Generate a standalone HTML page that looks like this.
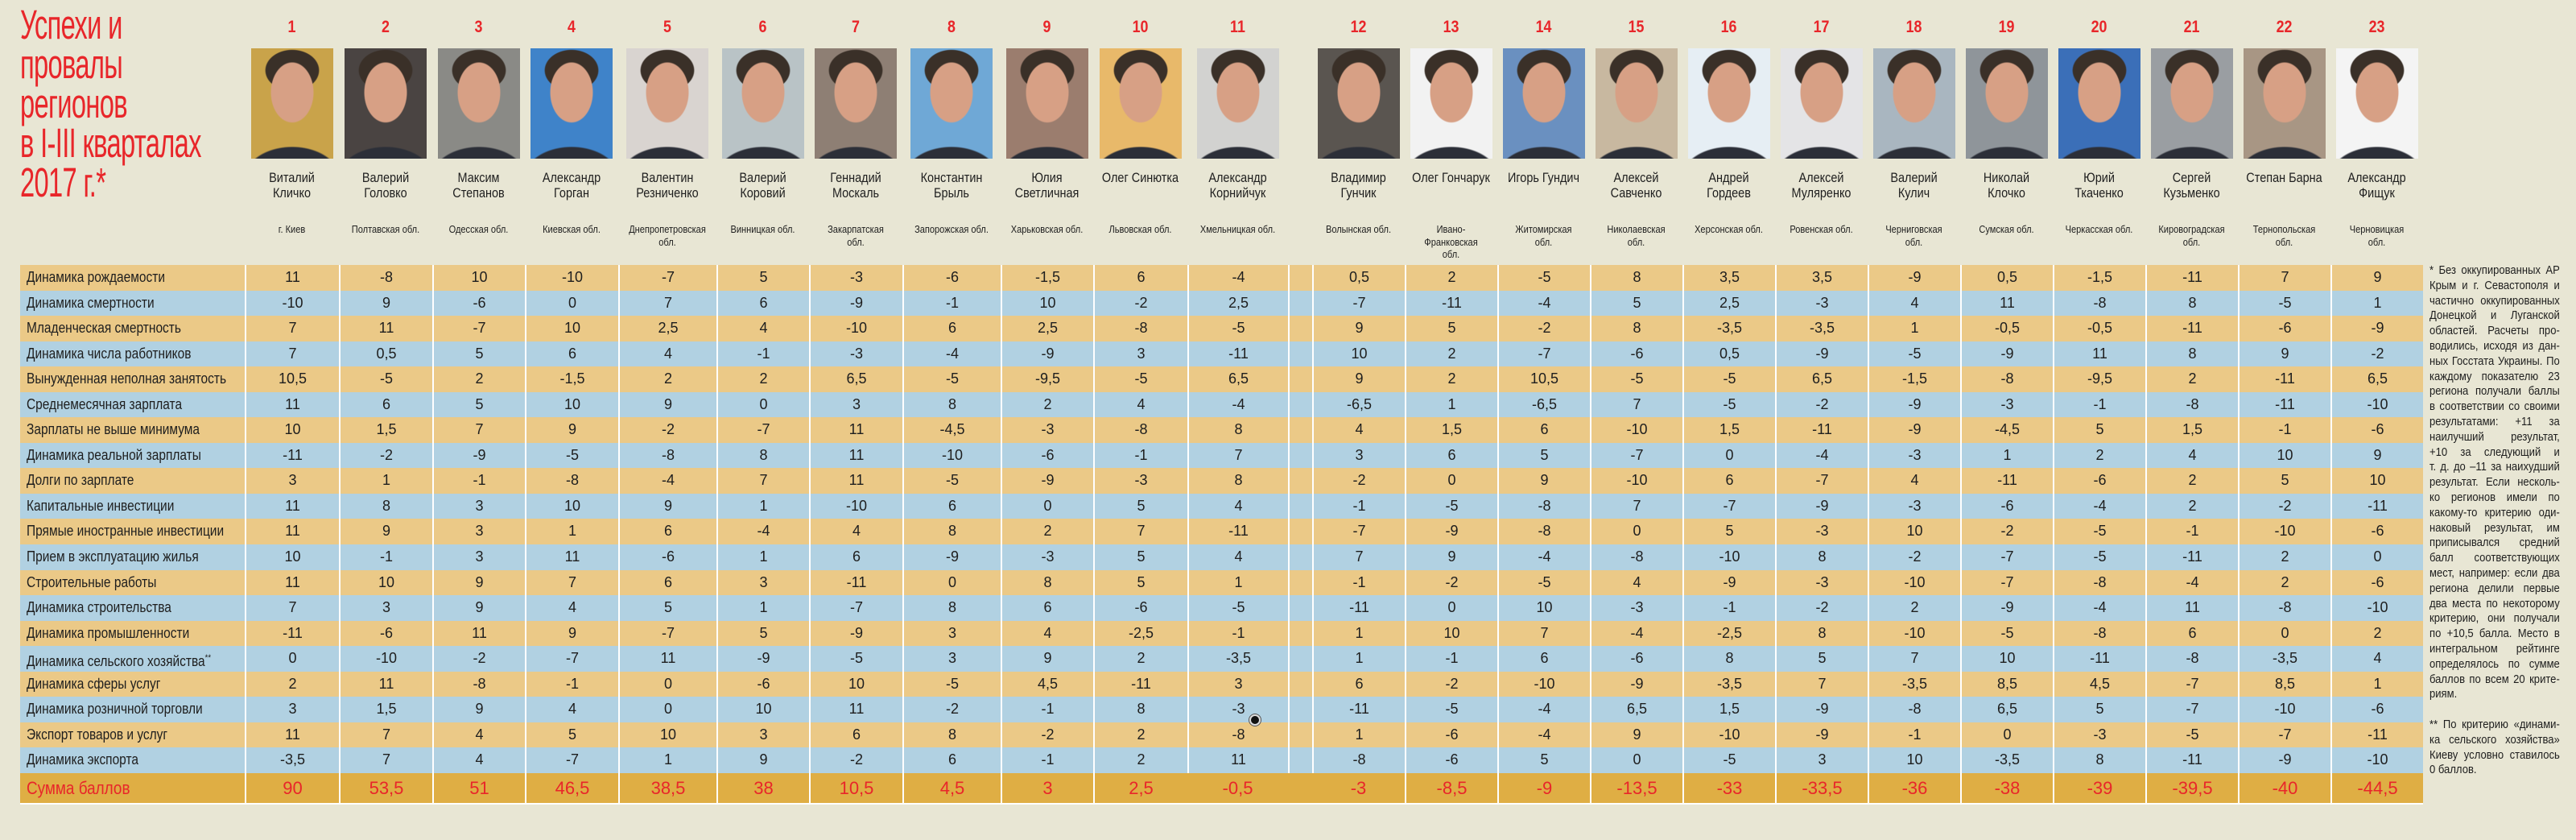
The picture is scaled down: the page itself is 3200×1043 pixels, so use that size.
<!DOCTYPE html>
<html><head><meta charset="utf-8">
<style>
*{margin:0;padding:0;box-sizing:border-box}
body{width:3200px;height:1043px;background:#e8e6d4;position:relative;overflow:hidden;font-family:"Liberation Sans","DejaVu Sans",sans-serif;color:#1e1e1e}
.title{position:absolute;left:25px;top:6px;color:#e8262a;font-size:51px;line-height:49px;transform:scaleX(0.64);transform-origin:0 0;white-space:nowrap;letter-spacing:-1px}
.hdr{position:absolute;left:25px;top:0;display:flex;height:320px}
.hdr>div{position:relative;height:320px}
.rk{position:absolute;top:22px;left:0;right:0;text-align:center;color:#e8262a;font-weight:bold;font-size:21px;transform:scaleX(0.85)}
.ph{position:absolute;top:60px;left:50%;margin-left:-51px;width:102px;height:137px;
background:radial-gradient(ellipse 27px 38px at 50% 40%,#d7a085 96%,transparent 100%),radial-gradient(ellipse 34px 26px at 50% 20%,#3a3028 96%,transparent 100%),radial-gradient(ellipse 60px 40px at 50% 118%,#2c2f38 96%,transparent 100%),var(--bg,#9aa3ad)}
.nm{position:absolute;top:211px;left:-10px;right:-10px;text-align:center;font-size:17px;line-height:19px;transform:scaleX(0.85)}
.rg{position:absolute;top:277px;left:-14px;right:-14px;text-align:center;font-size:13px;line-height:15.7px;transform:scaleX(0.85)}
.tb{position:absolute;left:25px;top:329px}
.r{display:flex;height:31.55px}
.r>div{border-left:2px solid #fff;text-align:center;line-height:31.55px;font-size:18px;white-space:nowrap}
.r>div:first-child{border-left:none;text-align:left;padding-left:8px}
.r>div:first-child span{display:inline-block;transform:scaleX(0.86);transform-origin:0 50%}
.o{background:#ebc987}.b{background:#b1d1e2}
.s{height:37px;background:#dfae44;color:#e8262a;border-bottom:2px solid #fff;height:39px}
.r.s>div{line-height:37px;font-size:22px}
.r.s>div:nth-child(13),.r.s>div:nth-child(14),.r.s>div:nth-child(12){border-left:none}
.r>div:nth-child(1),.hdr>div:nth-child(1){width:279px}
.r>div:nth-child(2),.hdr>div:nth-child(2){width:117px}
.r>div:nth-child(3),.hdr>div:nth-child(3){width:116px}
.r>div:nth-child(4),.hdr>div:nth-child(4){width:115px}
.r>div:nth-child(5),.hdr>div:nth-child(5){width:116px}
.r>div:nth-child(6),.hdr>div:nth-child(6){width:122px}
.r>div:nth-child(7),.hdr>div:nth-child(7){width:115px}
.r>div:nth-child(8),.hdr>div:nth-child(8){width:116px}
.r>div:nth-child(9),.hdr>div:nth-child(9){width:122px}
.r>div:nth-child(10),.hdr>div:nth-child(10){width:115px}
.r>div:nth-child(11),.hdr>div:nth-child(11){width:117px}
.r>div:nth-child(12),.hdr>div:nth-child(12){width:125px}
.r>div:nth-child(13),.hdr>div:nth-child(13){width:30px}
.r>div:nth-child(n+14),.hdr>div:nth-child(n+14){width:115px}
.fn{position:absolute;left:3018px;top:327px;width:162px;font-size:15px;line-height:18.8px}
.fn div{width:186px;transform:scaleX(0.87);transform-origin:0 0;text-align:justify;text-align-last:justify;white-space:nowrap;height:18.8px;display:flex;justify-content:space-between}
.fn div.l{justify-content:flex-start}
.cur{position:absolute;left:1552px;top:887px;width:14px;height:14px;border-radius:50%;background:#111;border:2px solid #ddd;box-shadow:0 0 0 1px #555}
</style></head><body>
<div class="title">Успехи и<br>провалы<br>регионов<br>в I-III кварталах<br>2017 г.*</div>

<div class="hdr">
<div></div>
<div><div class="rk">1</div><div class="ph" style="--bg:#c9a34a"></div><div class="nm">Виталий<br>Кличко</div><div class="rg">г. Киев</div></div>
<div><div class="rk">2</div><div class="ph" style="--bg:#4a4442"></div><div class="nm">Валерий<br>Головко</div><div class="rg">Полтавская обл.</div></div>
<div><div class="rk">3</div><div class="ph" style="--bg:#8a8a86"></div><div class="nm">Максим<br>Степанов</div><div class="rg">Одесская обл.</div></div>
<div><div class="rk">4</div><div class="ph" style="--bg:#3f83c9"></div><div class="nm">Александр<br>Горган</div><div class="rg">Киевская обл.</div></div>
<div><div class="rk">5</div><div class="ph" style="--bg:#d9d4d0"></div><div class="nm">Валентин<br>Резниченко</div><div class="rg">Днепропетровская<br>обл.</div></div>
<div><div class="rk">6</div><div class="ph" style="--bg:#b9c3c6"></div><div class="nm">Валерий<br>Коровий</div><div class="rg">Винницкая обл.</div></div>
<div><div class="rk">7</div><div class="ph" style="--bg:#8e7f74"></div><div class="nm">Геннадий<br>Москаль</div><div class="rg">Закарпатская<br>обл.</div></div>
<div><div class="rk">8</div><div class="ph" style="--bg:#6fa8d6"></div><div class="nm">Константин<br>Брыль</div><div class="rg">Запорожская обл.</div></div>
<div><div class="rk">9</div><div class="ph" style="--bg:#9b7d6e"></div><div class="nm">Юлия<br>Светличная</div><div class="rg">Харьковская обл.</div></div>
<div><div class="rk">10</div><div class="ph" style="--bg:#e8b96a"></div><div class="nm">Олег Синютка</div><div class="rg">Львовская обл.</div></div>
<div><div class="rk">11</div><div class="ph" style="--bg:#d2d2d0"></div><div class="nm">Александр<br>Корнийчук</div><div class="rg">Хмельницкая обл.</div></div>
<div></div>
<div><div class="rk">12</div><div class="ph" style="--bg:#5a5550"></div><div class="nm">Владимир<br>Гунчик</div><div class="rg">Волынская обл.</div></div>
<div><div class="rk">13</div><div class="ph" style="--bg:#f2f2f2"></div><div class="nm">Олег Гончарук</div><div class="rg">Ивано-<br>Франковская<br>обл.</div></div>
<div><div class="rk">14</div><div class="ph" style="--bg:#6a90c0"></div><div class="nm">Игорь Гундич</div><div class="rg">Житомирская<br>обл.</div></div>
<div><div class="rk">15</div><div class="ph" style="--bg:#c8b8a0"></div><div class="nm">Алексей<br>Савченко</div><div class="rg">Николаевская<br>обл.</div></div>
<div><div class="rk">16</div><div class="ph" style="--bg:#e6eef4"></div><div class="nm">Андрей<br>Гордеев</div><div class="rg">Херсонская обл.</div></div>
<div><div class="rk">17</div><div class="ph" style="--bg:#e4e4e6"></div><div class="nm">Алексей<br>Муляренко</div><div class="rg">Ровенская обл.</div></div>
<div><div class="rk">18</div><div class="ph" style="--bg:#a9b6c0"></div><div class="nm">Валерий<br>Кулич</div><div class="rg">Черниговская<br>обл.</div></div>
<div><div class="rk">19</div><div class="ph" style="--bg:#8f959a"></div><div class="nm">Николай<br>Клочко</div><div class="rg">Сумская обл.</div></div>
<div><div class="rk">20</div><div class="ph" style="--bg:#3b6fb8"></div><div class="nm">Юрий<br>Ткаченко</div><div class="rg">Черкасская обл.</div></div>
<div><div class="rk">21</div><div class="ph" style="--bg:#9a9ea2"></div><div class="nm">Сергей<br>Кузьменко</div><div class="rg">Кировоградская<br>обл.</div></div>
<div><div class="rk">22</div><div class="ph" style="--bg:#a89684"></div><div class="nm">Степан Барна</div><div class="rg">Тернопольская<br>обл.</div></div>
<div><div class="rk">23</div><div class="ph" style="--bg:#f4f4f4"></div><div class="nm">Александр<br>Фищук</div><div class="rg">Черновицкая<br>обл.</div></div>
</div>

<div class="tb">
<div class="r o"><div><span>Динамика рождаемости</span></div><div>11</div><div>-8</div><div>10</div><div>-10</div><div>-7</div><div>5</div><div>-3</div><div>-6</div><div>-1,5</div><div>6</div><div>-4</div><div></div><div>0,5</div><div>2</div><div>-5</div><div>8</div><div>3,5</div><div>3,5</div><div>-9</div><div>0,5</div><div>-1,5</div><div>-11</div><div>7</div><div>9</div></div>
<div class="r b"><div><span>Динамика смертности</span></div><div>-10</div><div>9</div><div>-6</div><div>0</div><div>7</div><div>6</div><div>-9</div><div>-1</div><div>10</div><div>-2</div><div>2,5</div><div></div><div>-7</div><div>-11</div><div>-4</div><div>5</div><div>2,5</div><div>-3</div><div>4</div><div>11</div><div>-8</div><div>8</div><div>-5</div><div>1</div></div>
<div class="r o"><div><span>Младенческая смертность</span></div><div>7</div><div>11</div><div>-7</div><div>10</div><div>2,5</div><div>4</div><div>-10</div><div>6</div><div>2,5</div><div>-8</div><div>-5</div><div></div><div>9</div><div>5</div><div>-2</div><div>8</div><div>-3,5</div><div>-3,5</div><div>1</div><div>-0,5</div><div>-0,5</div><div>-11</div><div>-6</div><div>-9</div></div>
<div class="r b"><div><span>Динамика числа работников</span></div><div>7</div><div>0,5</div><div>5</div><div>6</div><div>4</div><div>-1</div><div>-3</div><div>-4</div><div>-9</div><div>3</div><div>-11</div><div></div><div>10</div><div>2</div><div>-7</div><div>-6</div><div>0,5</div><div>-9</div><div>-5</div><div>-9</div><div>11</div><div>8</div><div>9</div><div>-2</div></div>
<div class="r o"><div><span>Вынужденная неполная занятость</span></div><div>10,5</div><div>-5</div><div>2</div><div>-1,5</div><div>2</div><div>2</div><div>6,5</div><div>-5</div><div>-9,5</div><div>-5</div><div>6,5</div><div></div><div>9</div><div>2</div><div>10,5</div><div>-5</div><div>-5</div><div>6,5</div><div>-1,5</div><div>-8</div><div>-9,5</div><div>2</div><div>-11</div><div>6,5</div></div>
<div class="r b"><div><span>Среднемесячная зарплата</span></div><div>11</div><div>6</div><div>5</div><div>10</div><div>9</div><div>0</div><div>3</div><div>8</div><div>2</div><div>4</div><div>-4</div><div></div><div>-6,5</div><div>1</div><div>-6,5</div><div>7</div><div>-5</div><div>-2</div><div>-9</div><div>-3</div><div>-1</div><div>-8</div><div>-11</div><div>-10</div></div>
<div class="r o"><div><span>Зарплаты не выше минимума</span></div><div>10</div><div>1,5</div><div>7</div><div>9</div><div>-2</div><div>-7</div><div>11</div><div>-4,5</div><div>-3</div><div>-8</div><div>8</div><div></div><div>4</div><div>1,5</div><div>6</div><div>-10</div><div>1,5</div><div>-11</div><div>-9</div><div>-4,5</div><div>5</div><div>1,5</div><div>-1</div><div>-6</div></div>
<div class="r b"><div><span>Динамика реальной зарплаты</span></div><div>-11</div><div>-2</div><div>-9</div><div>-5</div><div>-8</div><div>8</div><div>11</div><div>-10</div><div>-6</div><div>-1</div><div>7</div><div></div><div>3</div><div>6</div><div>5</div><div>-7</div><div>0</div><div>-4</div><div>-3</div><div>1</div><div>2</div><div>4</div><div>10</div><div>9</div></div>
<div class="r o"><div><span>Долги по зарплате</span></div><div>3</div><div>1</div><div>-1</div><div>-8</div><div>-4</div><div>7</div><div>11</div><div>-5</div><div>-9</div><div>-3</div><div>8</div><div></div><div>-2</div><div>0</div><div>9</div><div>-10</div><div>6</div><div>-7</div><div>4</div><div>-11</div><div>-6</div><div>2</div><div>5</div><div>10</div></div>
<div class="r b"><div><span>Капитальные инвестиции</span></div><div>11</div><div>8</div><div>3</div><div>10</div><div>9</div><div>1</div><div>-10</div><div>6</div><div>0</div><div>5</div><div>4</div><div></div><div>-1</div><div>-5</div><div>-8</div><div>7</div><div>-7</div><div>-9</div><div>-3</div><div>-6</div><div>-4</div><div>2</div><div>-2</div><div>-11</div></div>
<div class="r o"><div><span>Прямые иностранные инвестиции</span></div><div>11</div><div>9</div><div>3</div><div>1</div><div>6</div><div>-4</div><div>4</div><div>8</div><div>2</div><div>7</div><div>-11</div><div></div><div>-7</div><div>-9</div><div>-8</div><div>0</div><div>5</div><div>-3</div><div>10</div><div>-2</div><div>-5</div><div>-1</div><div>-10</div><div>-6</div></div>
<div class="r b"><div><span>Прием в эксплуатацию жилья</span></div><div>10</div><div>-1</div><div>3</div><div>11</div><div>-6</div><div>1</div><div>6</div><div>-9</div><div>-3</div><div>5</div><div>4</div><div></div><div>7</div><div>9</div><div>-4</div><div>-8</div><div>-10</div><div>8</div><div>-2</div><div>-7</div><div>-5</div><div>-11</div><div>2</div><div>0</div></div>
<div class="r o"><div><span>Строительные работы</span></div><div>11</div><div>10</div><div>9</div><div>7</div><div>6</div><div>3</div><div>-11</div><div>0</div><div>8</div><div>5</div><div>1</div><div></div><div>-1</div><div>-2</div><div>-5</div><div>4</div><div>-9</div><div>-3</div><div>-10</div><div>-7</div><div>-8</div><div>-4</div><div>2</div><div>-6</div></div>
<div class="r b"><div><span>Динамика строительства</span></div><div>7</div><div>3</div><div>9</div><div>4</div><div>5</div><div>1</div><div>-7</div><div>8</div><div>6</div><div>-6</div><div>-5</div><div></div><div>-11</div><div>0</div><div>10</div><div>-3</div><div>-1</div><div>-2</div><div>2</div><div>-9</div><div>-4</div><div>11</div><div>-8</div><div>-10</div></div>
<div class="r o"><div><span>Динамика промышленности</span></div><div>-11</div><div>-6</div><div>11</div><div>9</div><div>-7</div><div>5</div><div>-9</div><div>3</div><div>4</div><div>-2,5</div><div>-1</div><div></div><div>1</div><div>10</div><div>7</div><div>-4</div><div>-2,5</div><div>8</div><div>-10</div><div>-5</div><div>-8</div><div>6</div><div>0</div><div>2</div></div>
<div class="r b"><div><span>Динамика сельского хозяйства<sup style="font-size:11px">**</sup></span></div><div>0</div><div>-10</div><div>-2</div><div>-7</div><div>11</div><div>-9</div><div>-5</div><div>3</div><div>9</div><div>2</div><div>-3,5</div><div></div><div>1</div><div>-1</div><div>6</div><div>-6</div><div>8</div><div>5</div><div>7</div><div>10</div><div>-11</div><div>-8</div><div>-3,5</div><div>4</div></div>
<div class="r o"><div><span>Динамика сферы услуг</span></div><div>2</div><div>11</div><div>-8</div><div>-1</div><div>0</div><div>-6</div><div>10</div><div>-5</div><div>4,5</div><div>-11</div><div>3</div><div></div><div>6</div><div>-2</div><div>-10</div><div>-9</div><div>-3,5</div><div>7</div><div>-3,5</div><div>8,5</div><div>4,5</div><div>-7</div><div>8,5</div><div>1</div></div>
<div class="r b"><div><span>Динамика розничной торговли</span></div><div>3</div><div>1,5</div><div>9</div><div>4</div><div>0</div><div>10</div><div>11</div><div>-2</div><div>-1</div><div>8</div><div>-3</div><div></div><div>-11</div><div>-5</div><div>-4</div><div>6,5</div><div>1,5</div><div>-9</div><div>-8</div><div>6,5</div><div>5</div><div>-7</div><div>-10</div><div>-6</div></div>
<div class="r o"><div><span>Экспорт товаров и услуг</span></div><div>11</div><div>7</div><div>4</div><div>5</div><div>10</div><div>3</div><div>6</div><div>8</div><div>-2</div><div>2</div><div>-8</div><div></div><div>1</div><div>-6</div><div>-4</div><div>9</div><div>-10</div><div>-9</div><div>-1</div><div>0</div><div>-3</div><div>-5</div><div>-7</div><div>-11</div></div>
<div class="r b"><div><span>Динамика экспорта</span></div><div>-3,5</div><div>7</div><div>4</div><div>-7</div><div>1</div><div>9</div><div>-2</div><div>6</div><div>-1</div><div>2</div><div>11</div><div></div><div>-8</div><div>-6</div><div>5</div><div>0</div><div>-5</div><div>3</div><div>10</div><div>-3,5</div><div>8</div><div>-11</div><div>-9</div><div>-10</div></div>
<div class="r s"><div><span>Сумма баллов</span></div><div>90</div><div>53,5</div><div>51</div><div>46,5</div><div>38,5</div><div>38</div><div>10,5</div><div>4,5</div><div>3</div><div>2,5</div><div>-0,5</div><div></div><div>-3</div><div>-8,5</div><div>-9</div><div>-13,5</div><div>-33</div><div>-33,5</div><div>-36</div><div>-38</div><div>-39</div><div>-39,5</div><div>-40</div><div>-44,5</div></div>
</div>

<div class="cur"></div>

<div class="fn">
<div><span>*</span><span>Без</span><span>оккупированных</span><span>АР</span></div>
<div><span>Крым</span><span>и</span><span>г.</span><span>Севастополя</span><span>и</span></div>
<div><span>частично</span><span>оккупированных</span></div>
<div><span>Донецкой</span><span>и</span><span>Луганской</span></div>
<div><span>областей.</span><span>Расчеты</span><span>про-</span></div>
<div><span>водились,</span><span>исходя</span><span>из</span><span>дан-</span></div>
<div><span>ных</span><span>Госстата</span><span>Украины.</span><span>По</span></div>
<div><span>каждому</span><span>показателю</span><span>23</span></div>
<div><span>региона</span><span>получали</span><span>баллы</span></div>
<div><span>в</span><span>соответствии</span><span>со</span><span>своими</span></div>
<div><span>результатами:</span><span>+11</span><span>за</span></div>
<div><span>наилучший</span><span>результат,</span></div>
<div><span>+10</span><span>за</span><span>следующий</span><span>и</span></div>
<div><span>т.</span><span>д.</span><span>до</span><span>–11</span><span>за</span><span>наихудший</span></div>
<div><span>результат.</span><span>Если</span><span>несколь-</span></div>
<div><span>ко</span><span>регионов</span><span>имели</span><span>по</span></div>
<div><span>какому-то</span><span>критерию</span><span>оди-</span></div>
<div><span>наковый</span><span>результат,</span><span>им</span></div>
<div><span>приписывался</span><span>средний</span></div>
<div><span>балл</span><span>соответствующих</span></div>
<div><span>мест,</span><span>например:</span><span>если</span><span>два</span></div>
<div><span>региона</span><span>делили</span><span>первые</span></div>
<div><span>два</span><span>места</span><span>по</span><span>некоторому</span></div>
<div><span>критерию,</span><span>они</span><span>получали</span></div>
<div><span>по</span><span>+10,5</span><span>балла.</span><span>Место</span><span>в</span></div>
<div><span>интегральном</span><span>рейтинге</span></div>
<div><span>определялось</span><span>по</span><span>сумме</span></div>
<div><span>баллов</span><span>по</span><span>всем</span><span>20</span><span>крите-</span></div>
<div class="l"><span>риям.</span></div>
<div class="l"></div>
<div><span>**</span><span>По</span><span>критерию</span><span>«динами-</span></div>
<div><span>ка</span><span>сельского</span><span>хозяйства»</span></div>
<div><span>Киеву</span><span>условно</span><span>ставилось</span></div>
<div class="l"><span>0 баллов.</span></div>
</div>
</body></html>
